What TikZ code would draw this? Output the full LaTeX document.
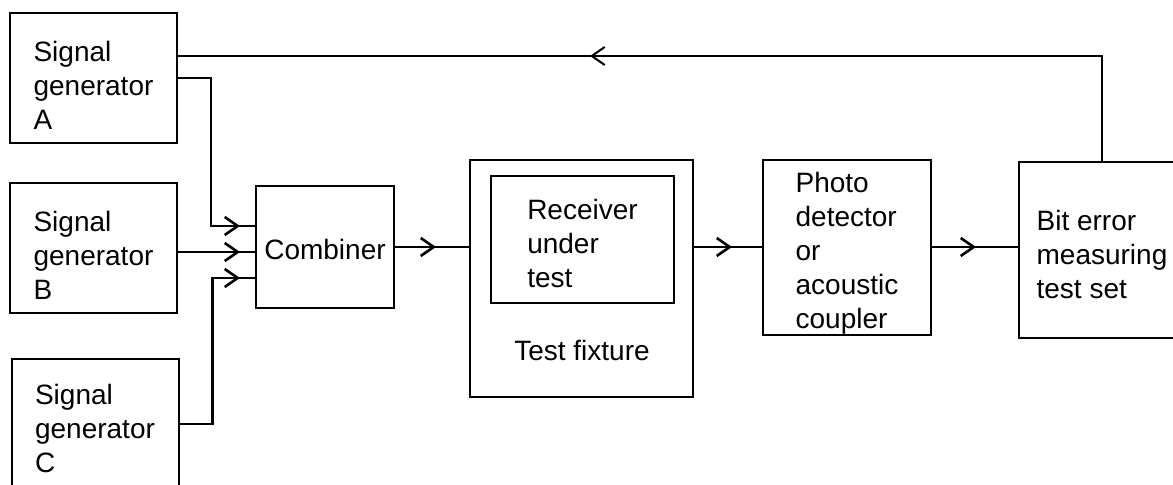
\documentclass[tikz,border=0pt]{standalone}
\usepackage{fontspec}
\setmainfont{Liberation Sans}
\usetikzlibrary{arrows.meta, decorations.markings}

\begin{document}
\begin{tikzpicture}[x=0.5pt, y=-0.5pt,
  every node/.style={font=\fontsize{14}{17}\selectfont},
  blockbox/.style={draw, line width=1pt, inner sep=0pt, align=left},
  genbox/.style={blockbox, minimum width=83.5pt, minimum height=65pt, text height=52pt},
  sigline/.style={line width=1.3pt},
  fbline/.style={line width=1pt},
  tipat/.style={postaction={decorate}, decoration={markings,
    mark=at position #1 with {\arrow{Straight Barb[length=6.5pt, width=9pt]}}}}]
\useasboundingbox (0,0) rectangle (1173,485);

\node[genbox] (genA) at (93.5,78) {Signal\\generator\\A};
\node[genbox] (genB) at (93.5,248) {Signal\\generator\\B};
\node[genbox, text height=49pt] (genC) at (95,424) {Signal\\generator\\C};
\node[blockbox, minimum width=69pt, minimum height=61pt, text height=13pt] (comb) at (325,247) {Combiner};

\node[blockbox, minimum width=111.5pt, minimum height=118.5pt] (fixture) at (581.5,278.5) {};
\node[blockbox, minimum width=91.5pt, minimum height=63.5pt, text height=48.5pt] (rut) at (582.5,239.5) {Receiver\\under\\test};
\node (fixlbl) at (582,350) {Test fixture};

\node[blockbox, minimum width=84pt, minimum height=87.5pt, text height=84pt] (photo) at (847,247.5) {Photo\\detector\\or\\acoustic\\coupler};
\node[blockbox, minimum width=83pt, minimum height=88pt, text height=48.5pt] (bert) at (1102,250) {Bit error\\measuring\\test set};

\coordinate (inA) at ([yshift=10.5pt]comb.west);
\coordinate (inB) at ([yshift=-2.5pt]comb.west);
\coordinate (inC) at ([yshift=-15.5pt]comb.west);

\draw[sigline, tipat=-7.5pt] (genA.east) -- ++(33,0) |- (inA);
\draw[sigline, tipat=-7.5pt] (genB.east |- inB) -- (inB);
\draw[sigline, tipat=-7.5pt] (genC.east) -- ++(33,0) |- (inC);

\draw[sigline, tipat=-16.5pt] (comb.east) -- (fixture.west |- comb.east);
\draw[sigline, tipat=-15pt] (fixture.east |- comb.east) -- (photo.west |- comb.east);
\draw[sigline, tipat=-21pt] (photo.east |- comb.east) -- (bert.west |- comb.east);

\draw[fbline, tipat=-206pt] (bert.north) |- ([yshift=11pt]genA.east);
\end{tikzpicture}
\end{document}
